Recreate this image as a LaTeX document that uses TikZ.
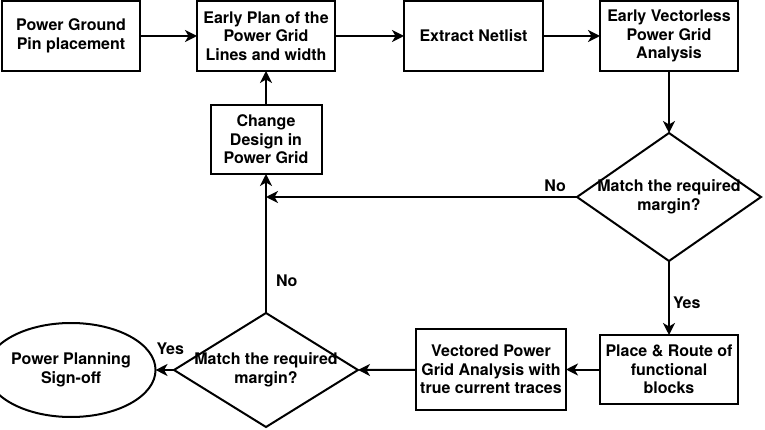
\documentclass[tikz,border=0pt]{standalone}
\usepackage{fontspec}
\setmainfont{TeX Gyre Heros}
\usetikzlibrary{arrows.meta,shapes.geometric}
\tikzset{
  txt/.style   ={font=\bfseries\fontsize{16}{18.5}\selectfont},
  blk/.style   ={draw, rectangle, align=center, inner sep=0pt,
                 outer sep=0pt, line width=2pt, txt},
  dec/.style   ={draw, diamond, align=center, inner ysep=0pt,
                 inner xsep=-12pt, outer sep=0pt, line width=2pt,
                 minimum width=184pt, txt},
  term/.style  ={draw, ellipse, align=center, inner sep=0pt,
                 outer sep=0pt, line width=2pt, txt},
  flow/.style  ={-{Stealth[length=12pt, width=12pt, inset=3.5pt]},
                 line width=2pt},
  lbl/.style   ={inner sep=1pt, txt},
}

\begin{document}
\begin{tikzpicture}[x=1pt, y=-1pt]
  \useasboundingbox (0,0) rectangle (765,430);
  % top row
  \node[blk, minimum width=138pt, minimum height=70pt] (pin) at (71,36)
    {Power Ground\\Pin placement};
  \node[blk, minimum width=138pt, minimum height=70pt] (plan) at (266,36)
    {Early Plan of the\\Power Grid\\Lines and width};
  \node[blk, minimum width=139pt, minimum height=70pt] (ext) at (473.5,36)
    {Extract Netlist};
  \node[blk, minimum width=138pt, minimum height=70pt] (vless) at (669,36)
    {Early Vectorless\\Power Grid\\Analysis};
  % middle
  \node[blk, minimum width=111pt, minimum height=69pt] (chg) at (266,139.5)
    {Change\\Design in\\Power Grid};
  \node[dec, minimum height=128pt, shape aspect=1.44] (chk1) at (669,197)
    {Match the required\\margin?};
  \coordinate (join) at (266,197);
  % bottom row
  \node[term, minimum width=140pt, minimum height=94pt] (sign) at (71,370)
    {Power Planning\\Sign-off};
  \node[dec, minimum height=114pt, shape aspect=1.61] (chk2) at (266,370)
    {Match the required\\margin?};
  \node[blk, minimum width=150pt, minimum height=81pt] (vec) at (491,369.5)
    {Vectored Power\\Grid Analysis with\\true current traces};
  \node[blk, minimum width=138pt, minimum height=69pt] (pr) at (669,369.5)
    {Place \& Route of\\functional\\blocks};
  % connectors
  \draw[flow] (pin) -- (plan);
  \draw[flow] (plan) -- (ext);
  \draw[flow] (ext) -- (vless);
  \draw[flow] (vless) -- (chk1);
  \draw[flow] (chk1.west) -- node[lbl, pos=0.07, above=3pt] {No} (join);
  \draw[flow] (chg) -- (plan);
  \draw[flow] (chk2.north) -- node[lbl, pos=0.23, right=8pt] {No} (chg.south);
  \draw[flow] (chk1.south) -- node[lbl, pos=0.57, right=2pt] {Yes} (pr.north);
  \draw[flow] (pr) -- (vec);
  \draw[flow] (vec) -- (chk2.east);
  \draw[flow] (chk2.west) -- node[lbl, pos=0.2, above=13pt] {Yes} (sign.east);
\end{tikzpicture}
\end{document}
